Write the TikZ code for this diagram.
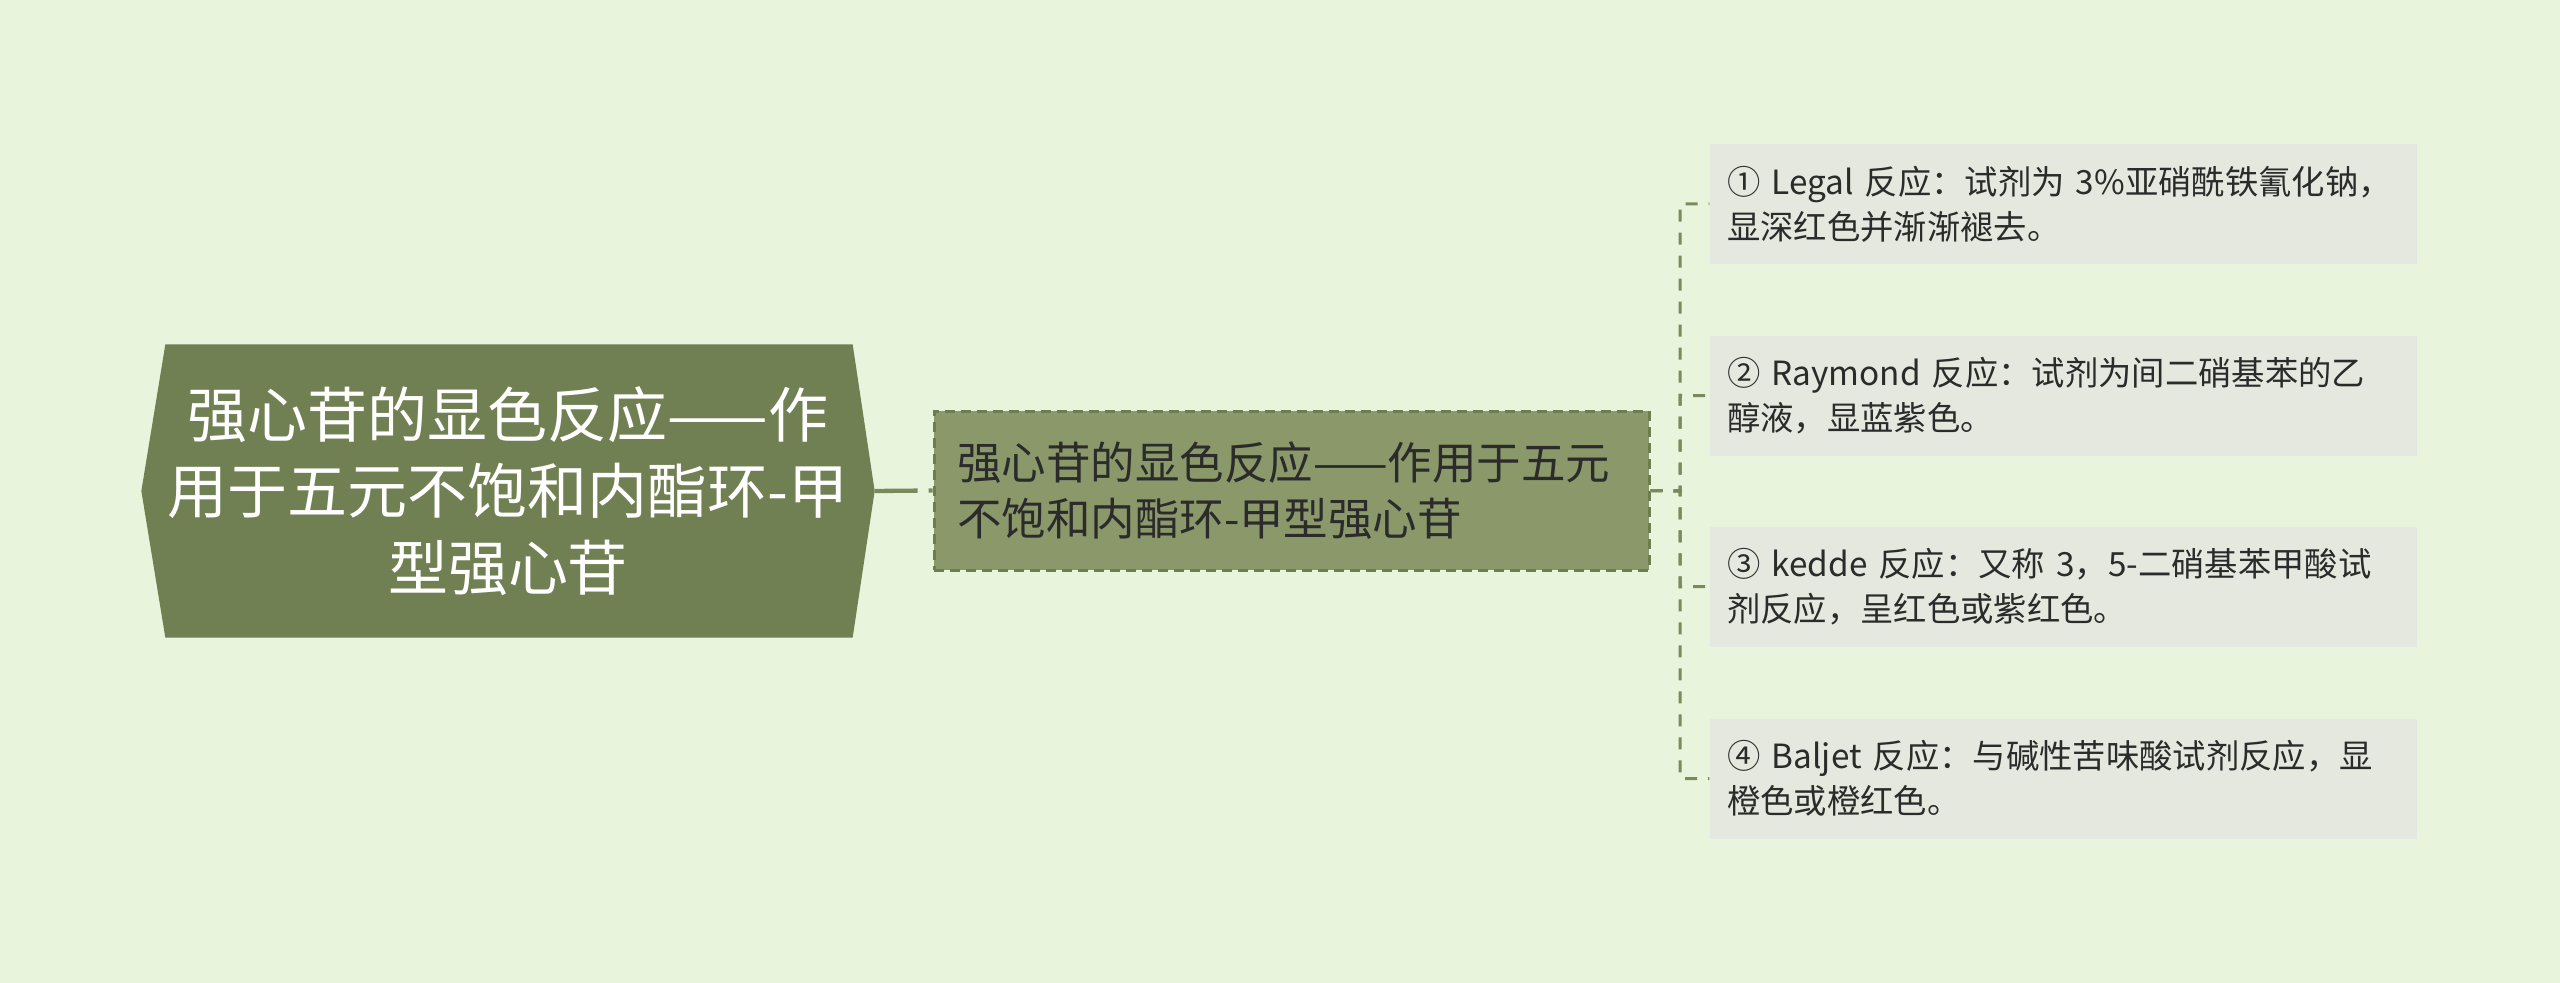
\documentclass[tikz,border=0pt]{standalone}
\usepackage{fontspec}
\setmainfont{Noto Sans CJK SC}
\pgfdeclarelayer{bglayer}
\pgfsetlayers{bglayer,main}
\definecolor{bgc}{HTML}{E8F5DC}
\definecolor{rootfill}{HTML}{718052}
\definecolor{subfill}{HTML}{8A986A}
\definecolor{subline}{HTML}{6E7D50}
\definecolor{leaffill}{HTML}{E4E8DE}
\definecolor{linkc}{HTML}{7B8A5C}
\definecolor{txt}{HTML}{2B2B2B}
\tikzset{
  rootbox/.style={minimum width=219.6pt, minimum height=87.6pt, inner sep=0pt},
  roottext/.style={text=white, align=center, font=\fontsize{18pt}{23pt}\selectfont, inner sep=0pt},
  subbox/.style={rectangle, fill=subfill, draw=subline, line width=0.9pt, dash pattern=on 3pt off 1.8pt,
    text width=200.7pt, inner xsep=6.9pt, inner ysep=0pt, minimum height=47.7pt, align=left,
    text=txt, font=\fontsize{13.35pt}{16.7pt}\selectfont},
  leafbox/.style={rectangle, fill=leaffill, text width=201.9pt, inner xsep=5.1pt, inner ysep=0pt,
    minimum height=36pt, align=left, text=txt, font=\fontsize{10pt}{13.6pt}\selectfont},
  rootlink/.style={draw=linkc, line width=1.3pt, dash pattern=on 12.9pt off 3.3pt},
  leaflink/.style={draw=linkc, line width=0.9pt, dash pattern=on 3.6pt off 3.3pt}
}
\begin{document}
\begin{tikzpicture}[x=0.3pt,y=-0.3pt]
\begin{pgfonlayer}{bglayer}
\fill[bgc] (0,0) rectangle (2560,983);
\end{pgfonlayer}
\useasboundingbox (0,0) rectangle (2560,983);
% root
\node[rootbox] (root) at (508,491) {};
\fill[rootfill] (root.west) -- ([xshift=7.2pt]root.north west) -- ([xshift=-6.6pt]root.north east)
  -- (root.east) -- ([xshift=-6.6pt]root.south east) -- ([xshift=7.2pt]root.south west) -- cycle;
\node[roottext] (roottxt) at (root.center) {强心苷的显色反应——作\\用于五元不饱和内酯环-甲\\型强心苷};
% sub
\node[subbox] (sub) at (1291.5,490.5) {强心苷的显色反应——作用于五元\\不饱和内酯环-甲型强心苷};
% leaves
\node[leafbox] (l1) at (2063.5,204) {① Legal 反应：试剂为 3\%亚硝酰铁氰化钠，\\显深红色并渐渐褪去。};
\node[leafbox] (l2) at (2063.5,395.5) {② Raymond 反应：试剂为间二硝基苯的乙\\醇液，显蓝紫色。};
\node[leafbox] (l3) at (2063.5,586.5) {③ kedde 反应：又称 3，5-二硝基苯甲酸试\\剂反应，呈红色或紫红色。};
\node[leafbox] (l4) at (2063.5,778.5) {④ Baljet 反应：与碱性苦味酸试剂反应，显\\橙色或橙红色。};
% links
\draw[rootlink] (root.east) -- (sub.west);
\coordinate (tr) at (1680,491);
\draw[leaflink] (sub.east) -- (tr) |- (l1.west);
\draw[leaflink] (sub.east) -- (tr) |- (l2.west);
\draw[leaflink] (sub.east) -- (tr) |- (l3.west);
\draw[leaflink] (sub.east) -- (tr) |- (l4.west);
\end{tikzpicture}
\end{document}
